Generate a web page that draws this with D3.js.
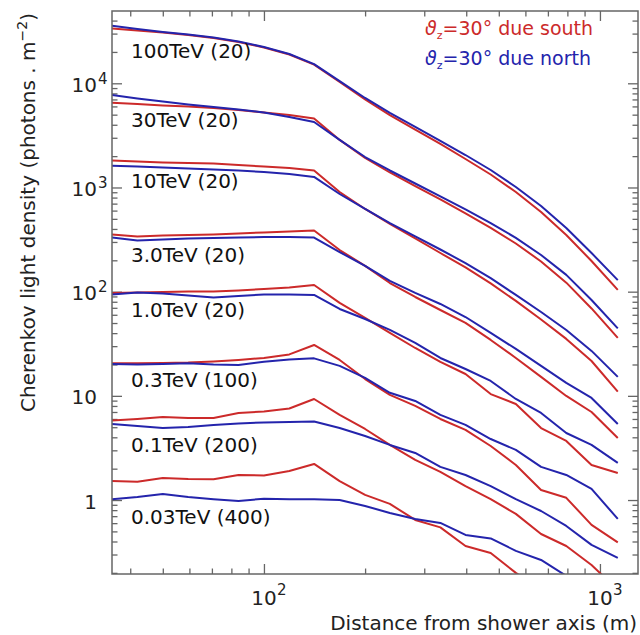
<!DOCTYPE html>
<html>
<head>
<meta charset="utf-8">
<script src="https://cdn.jsdelivr.net/npm/d3@7"></script>
<style>
  body { margin: 0; background: #fff; }
  svg { display: block; font-family: 'DejaVu Sans', sans-serif; }
</style>
</head>
<body>
<svg id="chart" width="640" height="635"></svg>
<script>
'use strict'

// distance from shower axis (m), sampling points of every curve
const distance = [35.3, 42, 50, 59.5, 70.8, 84, 100, 119, 141, 168, 200, 237, 282, 335, 398, 473, 562, 668, 794, 944, 1130]

// theta_z = 30 deg, due south (red)
const south100 = [33600, 32100, 30700, 29100, 27200, 24900, 22100, 18900, 15100, 10300, 6990, 4960, 3600, 2615, 1877, 1333, 905, 582, 350, 197, 104]
const south30  = [6510, 6330, 6120, 5990, 5790, 5540, 5240, 4960, 4590, 2860, 1920, 1393, 1033, 767, 563, 409, 290, 195, 122, 69.0, 36.0]
const south10  = [1816, 1778, 1738, 1718, 1700, 1644, 1590, 1540, 1456, 905, 622, 447, 324, 235, 171, 120, 81.5, 54.1, 35.2, 21.6, 11.0]
const south3   = [354, 339, 346, 350, 354, 362, 370, 378, 387, 251, 177, 121, 88.9, 66.7, 50.1, 34.4, 23.1, 15.2, 9.98, 7.0, 3.94]
const south1   = [97.2, 98.2, 99.3, 100.5, 100.5, 102.8, 106.2, 109.7, 115.9, 78.0, 56.0, 40.2, 28.8, 21.2, 16.2, 10.4, 8.36, 4.91, 3.69, 2.17, 1.82]
const south03  = [20.5, 20.5, 20.7, 20.9, 21.4, 22.1, 23.1, 25.0, 30.8, 22.1, 14.5, 10.2, 8.0, 6.0, 4.71, 3.30, 2.17, 1.25, 1.05, 0.577, 0.392]
const south01  = [5.81, 6.00, 6.27, 6.14, 6.14, 6.85, 7.08, 7.57, 9.33, 6.56, 4.81, 3.38, 2.43, 1.86, 1.36, 1.02, 0.736, 0.472, 0.362, 0.238, 0.137]
const south003 = [1.52, 1.50, 1.63, 1.59, 1.58, 1.74, 1.72, 1.90, 2.22, 1.52, 1.12, 0.918, 0.644, 0.546, 0.362, 0.310, 0.200, 0.137, 0.103, 0.0706, 0.0454]

// theta_z = 30 deg, due north (blue)
const north100 = [35700, 33200, 31100, 29400, 27500, 25200, 22300, 19100, 15300, 10500, 7230, 5190, 3810, 2795, 2050, 1472, 1011, 664, 409, 235, 129]
const north30  = [7720, 7150, 6690, 6260, 5920, 5600, 5240, 4750, 4250, 2860, 1960, 1456, 1092, 820, 615, 456, 328, 225, 145, 83.2, 44.4]
const north10  = [1620, 1590, 1556, 1521, 1489, 1456, 1409, 1349, 1262, 866, 622, 456, 339, 254, 188, 135, 93.0, 63.8, 42.9, 27.0, 15.2]
const north3   = [331, 310, 317, 324, 328, 331, 335, 335, 331, 240, 177, 127, 97.2, 76.2, 57.1, 40.2, 28.2, 19.4, 13.3, 9.55, 5.37]
const north1   = [94.0, 98.2, 96.1, 92.0, 88.0, 90.9, 94.0, 94.0, 93.0, 68.2, 54.7, 42.9, 32.2, 23.1, 18.1, 13.9, 9.33, 6.85, 4.40, 3.38, 2.27]
const north03  = [20.2, 20.0, 20.2, 20.5, 20.0, 19.8, 21.2, 22.3, 22.9, 19.4, 14.9, 10.7, 8.93, 6.56, 5.26, 3.85, 3.03, 2.08, 1.74, 1.28, 0.659]
const north01  = [5.37, 5.14, 4.92, 5.03, 5.25, 5.43, 5.56, 5.62, 5.68, 4.92, 4.12, 3.38, 2.83, 2.08, 1.74, 1.36, 1.02, 0.785, 0.564, 0.371, 0.278]
const north003 = [1.02, 1.07, 1.14, 1.07, 1.02, 0.98, 1.03, 1.02, 1.02, 1.00, 0.877, 0.752, 0.659, 0.603, 0.462, 0.428, 0.325, 0.266, 0.187, 0.137, 0.096]

const curveLabels = ['100TeV (20)', '30TeV (20)', '10TeV (20)', '3.0TeV (20)', '1.0TeV (20)', '0.3TeV (100)', '0.1TeV (200)', '0.03TeV (400)']
const xTickExps = [2, 3]
const yTickLabels = [{v: 1e4, base: '10', sup: '4'}, {v: 1e3, base: '10', sup: '3'}, {v: 1e2, base: '10', sup: '2'}, {v: 10, base: '10', sup: ''}, {v: 1, base: '1', sup: ''}]
const legendLabels = ['due south', 'due north']

const southSeries = [south100, south30, south10, south3, south1, south03, south01, south003]
const northSeries = [north100, north30, north10, north3, north1, north03, north01, north003]

// layout
const margin = {top: 11, right: 2, bottom: 61, left: 112}
const W = 640, H = 635
const w = W - margin.left - margin.right
const h = H - margin.top - margin.bottom
const labelBaselines = [58, 126.5, 188, 261.5, 316.5, 386.5, 451.5, 524]
const RED = '#cc2a2a', BLUE = '#2424ac', FRAME = '#666'

const svg = d3.select('#chart')

const x = d3.scaleLog().domain([35.3, 1298]).range([margin.left, margin.left + w])
const y = d3.scaleLog().domain([0.195, 49430]).range([margin.top + h, margin.top])

svg.append('defs').append('clipPath').attr('id', 'plotclip')
  .append('rect').attr('x', margin.left).attr('y', margin.top).attr('width', w).attr('height', h)

// minor/major tick values
function logTicks(domain){
  let out = []
  for (let e = -2; e <= 5; e++){
    for (let m = 1; m <= 9; m++){
      let v = m * Math.pow(10, e)
      if (v >= domain[0] && v <= domain[1]) out.push({v: v, major: m == 1})
    }
  }
  return out
}
const xt = logTicks(x.domain())
const yt = logTicks(y.domain())

function drawTicks(gen, vals, size, transform){
  let g = svg.append('g').attr('transform', transform)
    .call(gen.tickValues(vals).tickSize(size).tickSizeOuter(0).tickFormat(''))
  g.select('.domain').remove()
  g.selectAll('line').attr('stroke', FRAME).attr('stroke-width', 1.3)
}
const xMin = xt.filter(d => !d.major).map(d => d.v), xMaj = xt.filter(d => d.major).map(d => d.v)
const yMin = yt.filter(d => !d.major).map(d => d.v), yMaj = yt.filter(d => d.major).map(d => d.v)

// ticks point inward on all four sides
drawTicks(d3.axisBottom(x), xMin, -5.5, `translate(0,${margin.top + h})`)
drawTicks(d3.axisBottom(x), xMaj, -10, `translate(0,${margin.top + h})`)
drawTicks(d3.axisTop(x), xMin, -5.5, `translate(0,${margin.top})`)
drawTicks(d3.axisTop(x), xMaj, -10, `translate(0,${margin.top})`)
drawTicks(d3.axisLeft(y), yMin, -5.5, `translate(${margin.left},0)`)
drawTicks(d3.axisLeft(y), yMaj, -10, `translate(${margin.left},0)`)
drawTicks(d3.axisRight(y), yMin, -5.5, `translate(${margin.left + w},0)`)
drawTicks(d3.axisRight(y), yMaj, -10, `translate(${margin.left + w},0)`)

// curves
const line = d3.line().x((d, i) => x(distance[i])).y(d => y(d))
let curves = svg.append('g').attr('clip-path', 'url(#plotclip)')
for (let i = 0; i < southSeries.length; i++){
  curves.append('path').datum(southSeries[i]).attr('d', line)
    .attr('fill', 'none').attr('stroke', RED).attr('stroke-width', 2).attr('stroke-linejoin', 'round')
  curves.append('path').datum(northSeries[i]).attr('d', line)
    .attr('fill', 'none').attr('stroke', BLUE).attr('stroke-width', 2).attr('stroke-linejoin', 'round')
}

// frame
svg.append('rect').attr('x', margin.left).attr('y', margin.top).attr('width', w).attr('height', h)
  .attr('fill', 'none').attr('stroke', FRAME).attr('stroke-width', 1.5)

// curve labels
svg.append('g').selectAll('text').data(curveLabels).enter().append('text')
  .attr('x', 131).attr('y', (d, i) => labelBaselines[i])
  .attr('font-size', 20).attr('fill', '#111').text(d => d)

// y tick labels
yTickLabels.forEach(t => {
  svg.append('text').attr('x', 97).attr('y', y(t.v) + 8.5).attr('text-anchor', 'end')
    .attr('font-size', 20).attr('fill', '#222').text(t.base)
  if (t.sup) svg.append('text').attr('x', 98).attr('y', y(t.v) + 0.5)
    .attr('font-size', 15).attr('fill', '#222').text(t.sup)
})

// x tick labels
xTickExps.forEach(e => {
  let cx = x(Math.pow(10, e))
  svg.append('text').attr('x', cx).attr('y', 605).attr('text-anchor', 'middle')
    .attr('font-size', 20).attr('fill', '#222').text('10')
  svg.append('text').attr('x', cx + 13).attr('y', 595)
    .attr('font-size', 15).attr('fill', '#222').text(e)
})

// axis titles
svg.append('text').attr('x', 637).attr('y', 630).attr('text-anchor', 'end')
  .attr('font-size', 20).attr('fill', '#222').text('Distance from shower axis (m)')

let yt_ = svg.append('text').attr('transform', 'translate(35,412) rotate(-90)')
  .attr('font-size', 20).attr('fill', '#222')
yt_.append('tspan').text('Cherenkov light density (photons . m')
yt_.append('tspan').attr('dy', -8).attr('font-size', 14).text('\u22122')
yt_.append('tspan').attr('dy', 8).text(')')

// legend
legendLabels.forEach((lab, i) => {
  let t = svg.append('text').attr('x', 425).attr('y', 35 + i * 30)
    .attr('font-size', 19).attr('fill', i == 0 ? RED : BLUE)
  t.append('tspan').attr('font-style', 'italic').text('\u03d1')
  t.append('tspan').attr('dy', 4).attr('font-size', 11).text('z')
  t.append('tspan').attr('dy', -4).text('=30\u00b0 ' + lab)
})
</script>
</body>
</html>
